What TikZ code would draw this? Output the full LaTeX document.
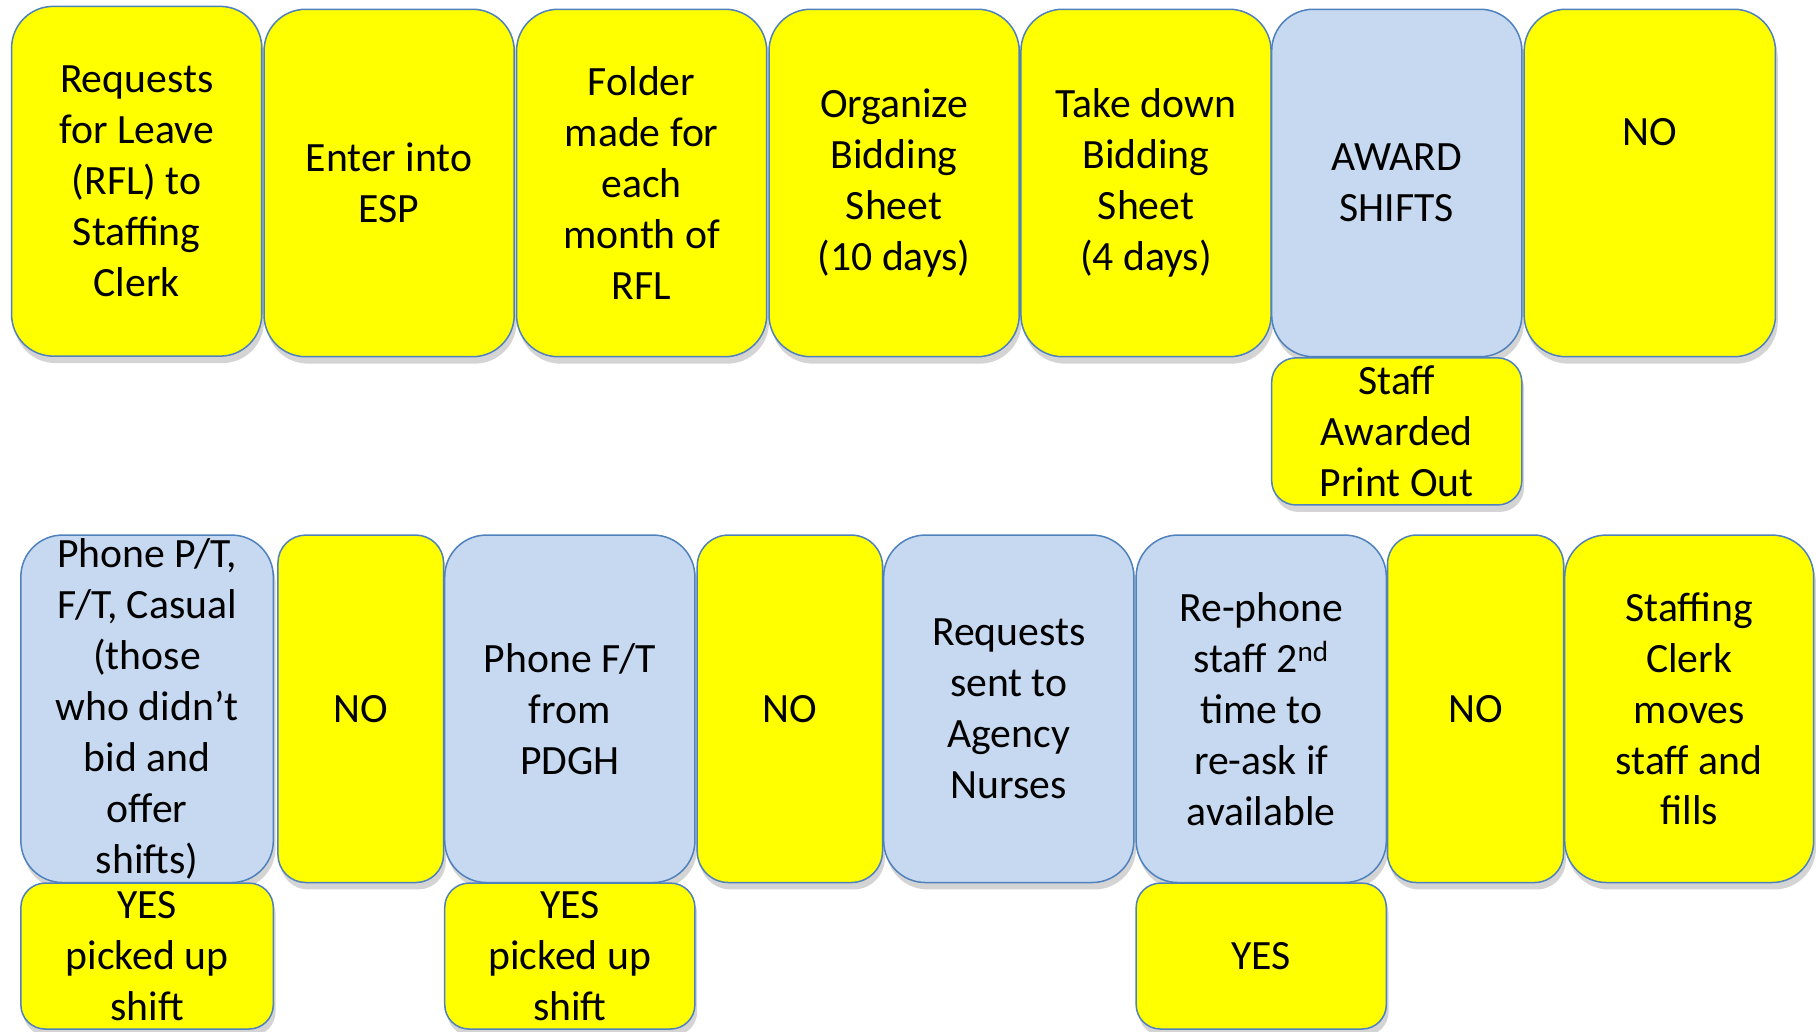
\documentclass[tikz,border=0pt]{standalone}
\usepackage{fontspec}
\setmainfont{Carlito}
\usetikzlibrary{shadows}
\definecolor{bxyellow}{HTML}{FFFF00}
\definecolor{bxblue}{HTML}{C6D9F0}
\definecolor{bxline}{HTML}{4F81BD}
\tikzset{
  bx/.style={draw=bxline, line width=1.3pt, align=center, inner sep=0pt,
    font=\fontsize{36}{44}\selectfont, text=black,
    drop shadow={shadow xshift=2pt, shadow yshift=-6pt, opacity=0.28, fill=black!60}},
  ybx/.style={bx, fill=bxyellow},
  bbx/.style={bx, fill=bxblue},
  big/.style={minimum width=216pt, minimum height=302pt, rounded corners=36pt},
  bigb/.style={minimum width=218pt, minimum height=300pt, rounded corners=36pt},
  sub/.style={minimum width=216pt, minimum height=126pt, rounded corners=21pt},
}
\begin{document}
\begin{tikzpicture}[x=1pt,y=-1pt]
\useasboundingbox (0,0) rectangle (1568,891);
% top row
\node[ybx,big] (b1) at (118,156.5) {Requests\\for Leave\\(RFL) to\\Staffing\\Clerk};
\node[ybx,big,minimum height=300pt] (b2) at (336,158) {Enter into\\ESP};
\node[ybx,big,minimum height=300pt] (b3) at (554,158) {Folder\\made for\\each\\month of\\RFL};
\node[ybx,big,minimum height=300pt] (b4) at (772,158) {Organize\\Bidding\\Sheet\\(10 days)};
\node[ybx,big,minimum height=300pt] (b5) at (989.5,158) {Take down\\Bidding\\Sheet\\(4 days)};
\node[bbx,big,minimum height=300pt] (b6) at (1206,158) {AWARD\\SHIFTS};
\node[ybx,big,minimum width=217pt,minimum height=300pt,
  label={[font=\fontsize{36}{44}\selectfont, yshift=44pt]center:NO}] (b7) at (1424.5,158) {};
\node[ybx,sub,minimum height=127pt] (s6) at (1206,372.5) {Staff\\Awarded\\Print Out};
% bottom row
\node[bbx,bigb] (c1) at (127,612) {Phone P/T,\\F/T, Casual\\(those\\who didn’t\\bid and\\offer\\shifts)};
\node[ybx,minimum width=143pt,minimum height=300pt,rounded corners=24pt] (c2) at (311.5,612) {NO};
\node[bbx,bigb,minimum width=216pt] (c3) at (492,612) {Phone F/T\\from\\PDGH};
\node[ybx,minimum width=160pt,minimum height=300pt,rounded corners=27pt] (c4) at (682,612) {NO};
\node[bbx,bigb,minimum width=216pt] (c5) at (871,612) {Requests\\sent to\\Agency\\Nurses};
\node[bbx,bigb,minimum width=216pt] (c6) at (1089,612) {Re-phone\\staff 2\textsuperscript{nd}\\time to\\re-ask if\\available};
\node[ybx,minimum width=152pt,minimum height=300pt,rounded corners=25pt] (c7) at (1274,612) {NO};
\node[ybx,bigb,minimum width=215pt] (c8) at (1458.5,612) {Staffing\\Clerk\\moves\\staff and\\fills};
% bottom sub-boxes
\node[ybx,sub,minimum width=218pt] (d1) at (127,825.5) {YES\\picked up\\shift};
\node[ybx,sub] (d3) at (492,825.5) {YES\\picked up\\shift};
\node[ybx,sub] (d6) at (1089,825.5) {YES};
\end{tikzpicture}
\end{document}
